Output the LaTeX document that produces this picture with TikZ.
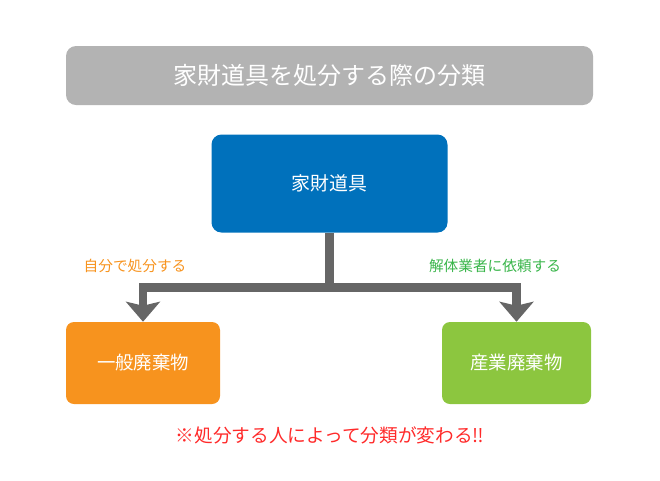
\documentclass[tikz,border=0pt]{standalone}
\usepackage{fontspec}
\setmainfont{Noto Sans CJK JP}
\usepackage{tikz}
\usetikzlibrary{arrows.meta}
\usetikzlibrary{positioning}
\definecolor{titlegray}{HTML}{B3B3B3}
\definecolor{kazaiblue}{HTML}{0071BC}
\definecolor{lineGray}{HTML}{666666}
\definecolor{wasteorange}{HTML}{F7931E}
\definecolor{wastegreen}{HTML}{8CC63F}
\definecolor{labelgreen}{HTML}{39B54A}
\definecolor{notered}{HTML}{FF2A2A}
\newdimen\px \px=0.75pt
\tikzset{node distance=29\px, auto}

\begin{document}
\begin{tikzpicture}[x=0.75pt, y=-0.75pt,
		titlebox/.style={fill=titlegray, text=white, rounded corners=7.5pt, inner sep=0pt,
			minimum width=527\px, minimum height=59\px, font=\fontsize{18}{20}\selectfont},
		kazaibox/.style={fill=kazaiblue, text=white, rounded corners=7.5pt, inner sep=0pt,
			minimum width=236\px, minimum height=98\px, font=\fontsize{14.2}{16}\selectfont},
		wastebox/.style={text=white, rounded corners=6pt, inner sep=0pt,
			minimum height=82\px, font=\fontsize{13.8}{16}\selectfont},
		branchlabel/.style={inner sep=0pt, font=\fontsize{11}{13}\selectfont},
		conn/.style={draw=lineGray, line width=6.4pt,
			-{Stealth[length=15pt, width=25.5pt, inset=3pt]}}]
	\useasboundingbox (0,0) rectangle (660,480);
			\node[titlebox] (title) 	at (329.5,75.5)		{家財道具を処分する際の分類};
			\node[kazaibox] (kazai) 	[below=of title]	{家財道具};
			\node[wastebox, fill=wasteorange, minimum width=154\px] (ippan) 	at (143,363) 	{一般廃棄物};
			\node[wastebox, fill=wastegreen, minimum width=149\px] (sangyo) 	at (516.5,363) 	{産業廃棄物};
			\coordinate (branch) at (329.5,287.5);
			\node[branchlabel, text=wasteorange] (self) 	at (135,266) 	{自分で処分する};
			\node[branchlabel, text=labelgreen] (gyosha) 	at (495,266) 	{解体業者に依頼する};
			\node[inner sep=0pt, text=notered, font=\fontsize{14}{16}\selectfont] (note) 	at (330,435) 	{※処分する人によって分類が変わる‼};
		  \draw[conn]					(kazai)		-- (branch) -| (ippan);
		  \draw[conn]					(branch)	-| (sangyo);
\end{tikzpicture}
\end{document}
